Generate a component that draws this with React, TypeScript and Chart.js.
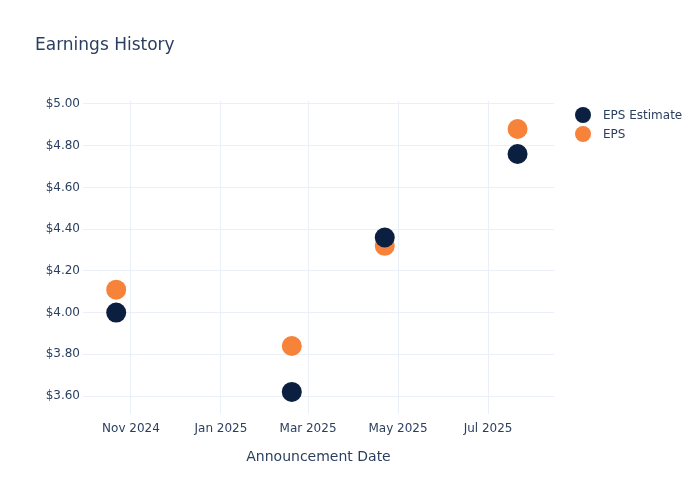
import React, { useEffect, useRef } from "react";
import { Chart, registerables } from "chart.js";

Chart.register(...registerables);

const announcementDates = ["2024-10-22", "2025-02-18", "2025-04-22", "2025-07-21"];
const epsEstimate = [4.0, 3.62, 4.36, 4.76];
const epsActual = [4.11, 3.84, 4.32, 4.88];
const xTickDates = ["2024-11-01", "2025-01-01", "2025-03-01", "2025-05-01", "2025-07-01"];
const xTickLabels = ["Nov 2024", "Jan 2025", "Mar 2025", "May 2025", "Jul 2025"];
const yTicks = [3.6, 3.8, 4.0, 4.2, 4.4, 4.6, 4.8, 5.0];
const seriesNames = ["EPS Estimate", "EPS"];
const seriesColors = ["#0b1f41", "#f7823a"];

const DAY = 86400000;
const toTs = (s: string) => Date.parse(s + "T00:00:00Z");
const xMin = toTs("2024-11-01") - 32.5 * DAY;
const xMax = toTs("2025-07-01") + 44.7 * DAY;
const yMin = 3.514;
const yMax = 5.014;

const FONT = "'DejaVu Sans', Verdana, sans-serif";
const TEXT = "#2a3f5f";
const GRID = "#ebf0f8";

const overlay = {
  id: "overlay",
  beforeDraw(chart: any) {
    const ctx = chart.ctx;
    ctx.save();
    ctx.fillStyle = "#ffffff";
    ctx.fillRect(0, 0, chart.width, chart.height);
    ctx.restore();
  },
  afterDraw(chart: any) {
    const ctx = chart.ctx;
    ctx.save();
    ctx.fillStyle = TEXT;
    ctx.font = `17px ${FONT}`;
    ctx.textBaseline = "middle";
    ctx.textAlign = "left";
    ctx.fillText("Earnings History", 35, 46);
    ctx.font = `12px ${FONT}`;
    seriesNames.forEach((name, i) => {
      const y = 115 + i * 19;
      ctx.beginPath();
      ctx.arc(583, y, 8, 0, Math.PI * 2);
      ctx.fillStyle = seriesColors[i];
      ctx.fill();
      ctx.fillStyle = TEXT;
      ctx.fillText(name, 603, y + 1);
    });
    ctx.restore();
  },
};

export default function App() {
  const ref = useRef<HTMLCanvasElement>(null);
  useEffect(() => {
    if (!ref.current) return;
    const mk = (vals: number[]) =>
      announcementDates.map((d, i) => ({ x: toTs(d), y: vals[i] }));
    const chart = new Chart(ref.current, {
      type: "scatter",
      data: {
        datasets: [
          {
            label: seriesNames[0],
            data: mk(epsEstimate),
            backgroundColor: seriesColors[0],
            borderWidth: 0,
            pointRadius: 10,
          },
          {
            label: seriesNames[1],
            data: mk(epsActual),
            backgroundColor: seriesColors[1],
            borderWidth: 0,
            pointRadius: 10,
          },
        ],
      },
      options: {
        animation: false,
        responsive: false,
        layout: { padding: { top: 101, right: 146, left: 0, bottom: 0 } },
        plugins: { legend: { display: false }, tooltip: { enabled: false }, title: { display: false } },
        scales: {
          x: {
            type: "linear",
            min: xMin,
            max: xMax,
            afterBuildTicks: (s: any) => {
              s.ticks = xTickDates.map((d) => ({ value: toTs(d) }));
            },
            afterFit: (s: any) => {
              s.height = 86;
            },
            ticks: {
              autoSkip: false,
              maxRotation: 0,
              padding: 8,
              color: TEXT,
              font: { family: FONT, size: 12 },
              callback: (_v: any, i: number) => xTickLabels[i],
            },
            grid: { color: GRID, drawTicks: false, lineWidth: 1 },
            border: { display: false },
            title: {
              display: true,
              text: "Announcement Date",
              color: TEXT,
              font: { family: FONT, size: 14 },
              padding: { top: 0, bottom: 34 },
            },
          },
          y: {
            type: "linear",
            min: yMin,
            max: yMax,
            afterBuildTicks: (s: any) => {
              s.ticks = yTicks.map((v) => ({ value: v }));
            },
            afterFit: (s: any) => {
              s.width = 83;
            },
            ticks: {
              padding: 3,
              color: TEXT,
              font: { family: FONT, size: 12 },
              callback: (v: any) => "$" + Number(v).toFixed(2),
            },
            grid: { color: GRID, drawTicks: false, lineWidth: 1 },
            border: { display: false },
          },
        },
      },
      plugins: [overlay],
    } as any);
    return () => chart.destroy();
  }, []);
  return (
    <div style={{ position: "fixed", left: 0, top: 0, width: 700, height: 500 }}>
      <canvas ref={ref} width={700} height={500} style={{ display: "block" }} />
    </div>
  );
}
